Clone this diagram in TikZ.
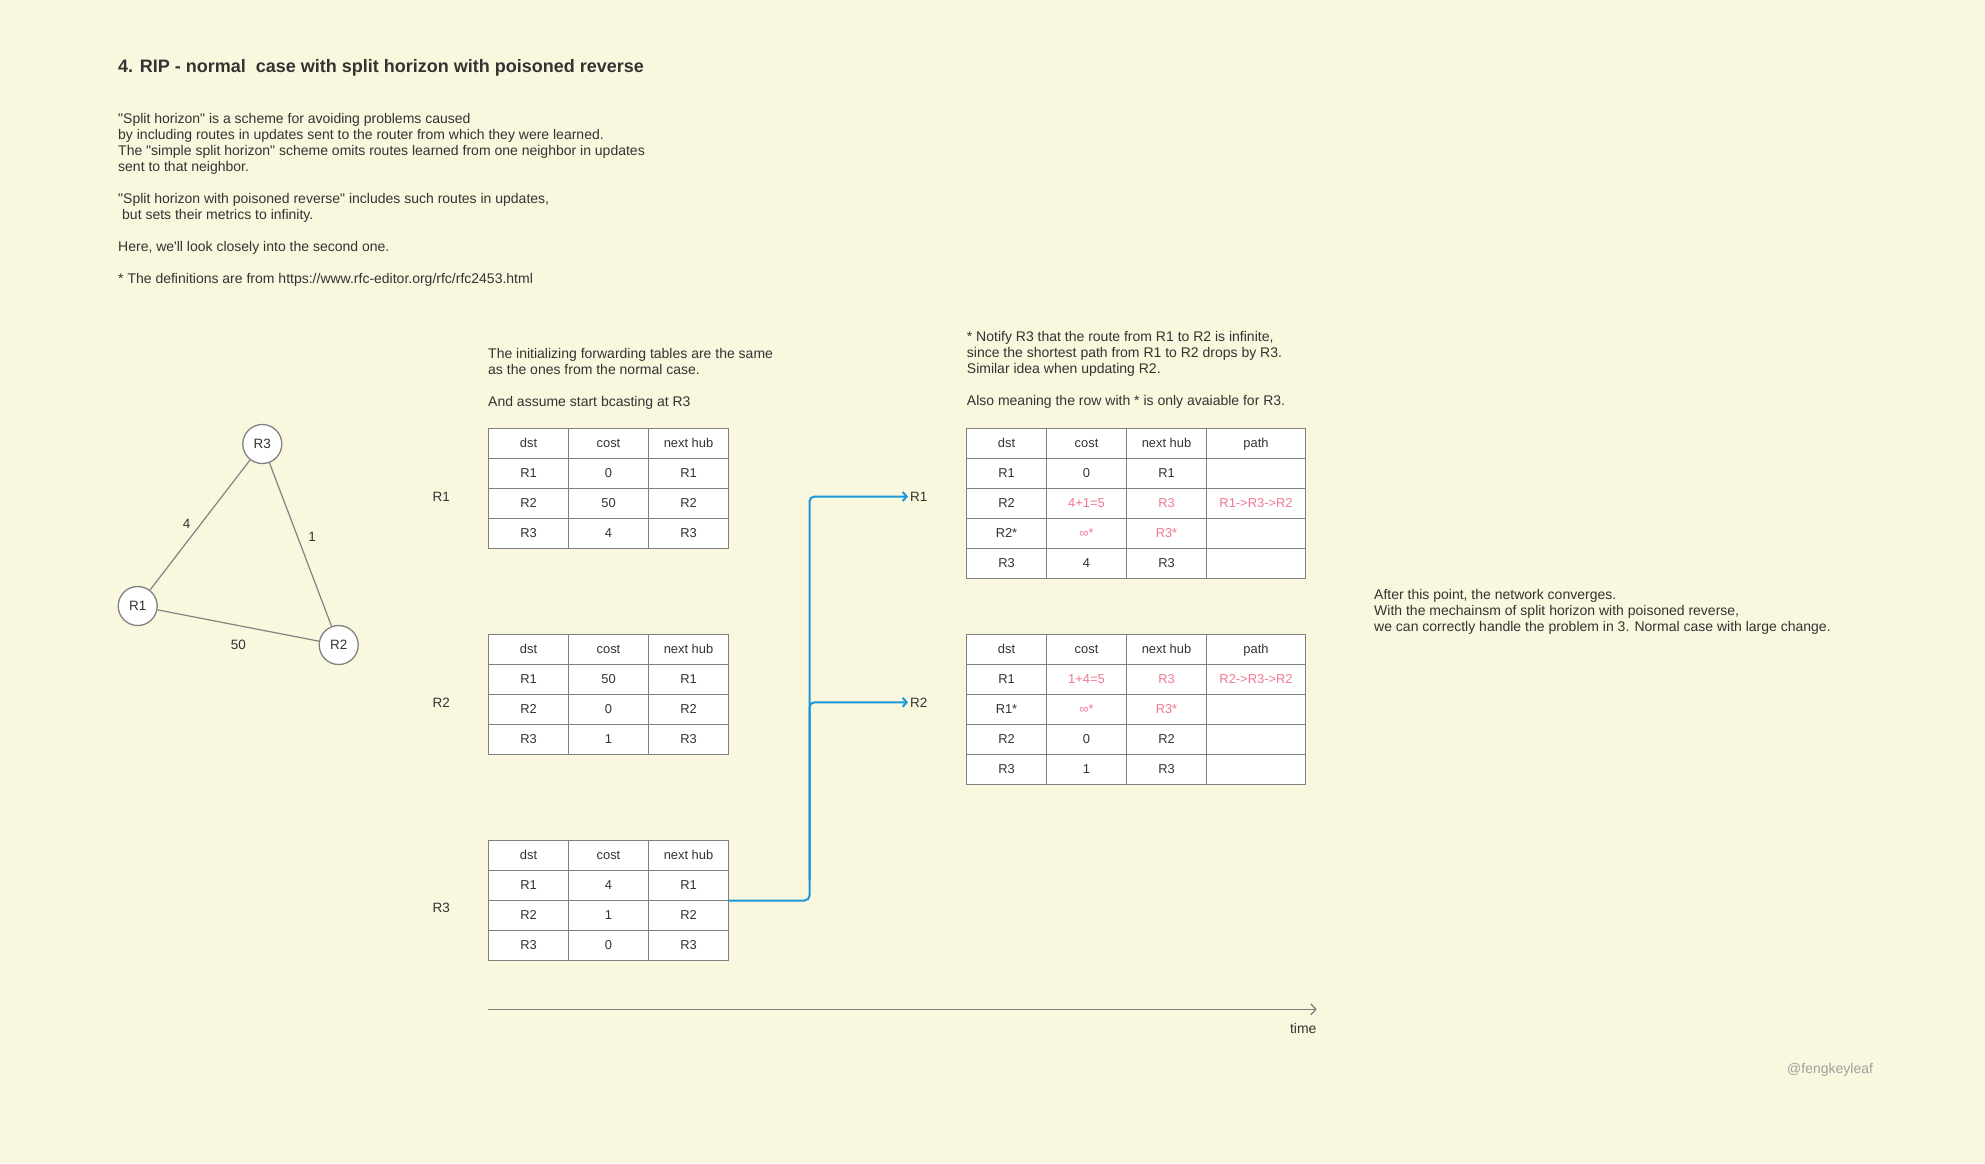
\documentclass[tikz,border=0pt]{standalone}
\usepackage{fontspec}
\setmainfont{Liberation Sans}
\newfontfamily\lsans{Liberation Sans}
\usetikzlibrary{matrix,arrows.meta}
\definecolor{bg}{RGB}{249,247,221}
\definecolor{ink}{RGB}{51,51,51}
\definecolor{grid}{RGB}{128,128,128}
\definecolor{edgegray}{RGB}{130,130,130}
\definecolor{wire}{RGB}{26,152,219}
\definecolor{pink}{RGB}{240,120,145}
\definecolor{wm}{RGB}{160,160,160}
\newcommand\lstrut{\rule{0pt}{11pt}}
\begin{document}
\begin{tikzpicture}[x=1pt,y=-1pt,
  txt/.style={font=\lsans\fontsize{14}{16}\selectfont, text=ink, inner sep=0, align=left, anchor=north west},
  lab/.style={font=\lsans\fontsize{13.5}{16}\selectfont, text=ink, inner sep=0},
  cellbox/.style={draw=grid, fill=white, line width=1.2, minimum width=80, minimum height=30, inner sep=0, outer sep=0, text height=9.5, text depth=2.5, font=\lsans\fontsize{12.9}{14}\selectfont, text=ink},
  tbl/.style={matrix of nodes, nodes in empty cells, anchor=north west, inner sep=0, outer sep=0, column sep=-1.2pt, row sep=-1.2pt, nodes={cellbox}},
  pk/.style={text=pink},
  router/.style={circle, draw=edgegray, fill=white, line width=1.3, minimum size=39, inner sep=0, font=\lsans\fontsize{13.5}{16}\selectfont, text=ink},
  edge/.style={draw=edgegray, line width=1.2},
  conn/.style={draw=wire, line width=2, rounded corners=5, -{Straight Barb[length=4pt,width=9pt]}, shorten >=2pt},
  axis/.style={draw=grid, line width=1.3, -{Straight Barb[length=5pt,width=11pt]}}
]
\fill[bg] (0,0) rectangle (1985,1163);
\useasboundingbox (0,0) rectangle (1985,1163);

% title and intro
\node[anchor=base west, inner sep=0, text=ink, font=\lsans\bfseries\fontsize{18}{20}\selectfont] (title) at (118,72.3) {4. RIP - normal\ \ case with split horizon with poisoned reverse};
\node[txt] (intro) at (118,112.7) {\lstrut"Split horizon" is a scheme for avoiding problems caused\\
by including routes in updates sent to the router from which they were learned.\\
The "simple split horizon" scheme omits routes learned from one neighbor in updates\\
sent to that neighbor.\\[16pt]
"Split horizon with poisoned reverse" includes such routes in updates,\\
\hspace*{4pt}but sets their metrics to infinity.\\[16pt]
Here, we'll look closely into the second one.\\[16pt]
* The definitions are from https://www.rfc-editor.org/rfc/rfc2453.html};

% graph
\node[router] (r3) at (262.3,444) {R3};
\node[router] (r1) at (137.7,606) {R1};
\node[router] (r2) at (338.7,645) {R2};
\draw[edge] (r1) -- (r3);
\draw[edge] (r3) -- (r2);
\draw[edge] (r1) -- (r2);
\node[lab] (w13) at (186.7,524) {4};
\node[lab] (w32) at (312,536.7) {1};
\node[lab] (w12) at (238.3,645) {50};

% notes
\node[txt] (note1) at (488,347.3) {\lstrut The initializing forwarding tables are the same\\
as the ones from the normal case.\\[16pt]
And assume start bcasting at R3};
\node[txt] (note2) at (966.7,330.7) {\lstrut* Notify R3 that the route from R1 to R2 is infinite,\\
since the shortest path from R1 to R2 drops by R3.\\
Similar idea when updating R2.\\[16pt]
Also meaning the row with * is only avaiable for R3.};
\node[txt] (note3) at (1374,588.3) {\lstrut After this point, the network converges.\\
With the mechainsm of split horizon with poisoned reverse,\\
we can correctly handle the problem in 3. Normal case with large change.};

% left labels
\node[lab, anchor=west] (l1) at (432.3,496.7) {R1};
\node[lab, anchor=west] (l2) at (432.3,702.3) {R2};
\node[lab, anchor=west] (l3) at (432.3,908.3) {R3};

% initial tables
\matrix (t1) [tbl] at (487.9,427.9) {
dst & cost & next hub \\
R1 & 0 & R1 \\
R2 & 50 & R2 \\
R3 & 4 & R3 \\
};
\matrix (t2) [tbl] at (487.9,633.9) {
dst & cost & next hub \\
R1 & 50 & R1 \\
R2 & 0 & R2 \\
R3 & 1 & R3 \\
};
\matrix (t3) [tbl] at (487.9,839.9) {
dst & cost & next hub \\
R1 & 4 & R1 \\
R2 & 1 & R2 \\
R3 & 0 & R3 \\
};

% updated tables
\matrix (t4) [tbl, column 4/.style={nodes={minimum width=99}}] at (965.9,427.9) {
dst & cost & next hub & path \\
R1 & 0 & R1 & \\
R2 & |[pk]| 4+1=5 & |[pk]| R3 & |[pk]| R1->R3->R2 \\
R2* & |[pk]| ∞* & |[pk]| R3* & \\
R3 & 4 & R3 & \\
};
\matrix (t5) [tbl, column 4/.style={nodes={minimum width=99}}] at (965.9,633.9) {
dst & cost & next hub & path \\
R1 & |[pk]| 1+4=5 & |[pk]| R3 & |[pk]| R2->R3->R2 \\
R1* & |[pk]| ∞* & |[pk]| R3* & \\
R2 & 0 & R2 & \\
R3 & 1 & R3 & \\
};

% broadcast arrows
\node[lab, anchor=west] (a1) at (910,496.5) {R1};
\node[lab, anchor=west] (a2) at (910,702.3) {R2};
\coordinate (jn) at (809.5,900.5);
\coordinate (jn2) at (809.5,880);
\draw[conn] (t3-2-3.south east) -- (jn) |- (a1.west);
\draw[conn] (jn2) |- (a2.west);

% time axis
\coordinate (ax0) at (488.4,1009.3);
\coordinate (ax1) at (1316.7,1009.3);
\draw[axis] (ax0) -- (ax1);
\node[anchor=east, inner sep=0, text=ink, font=\lsans\fontsize{14}{16}\selectfont] (time) at (1316.7,1028) {time};

% watermark
\node[anchor=west, inner sep=0, text=wm, font=\lsans\fontsize{14}{16}\selectfont] (wmk) at (1787,1070) {@fengkeyleaf};
\end{tikzpicture}
\end{document}
